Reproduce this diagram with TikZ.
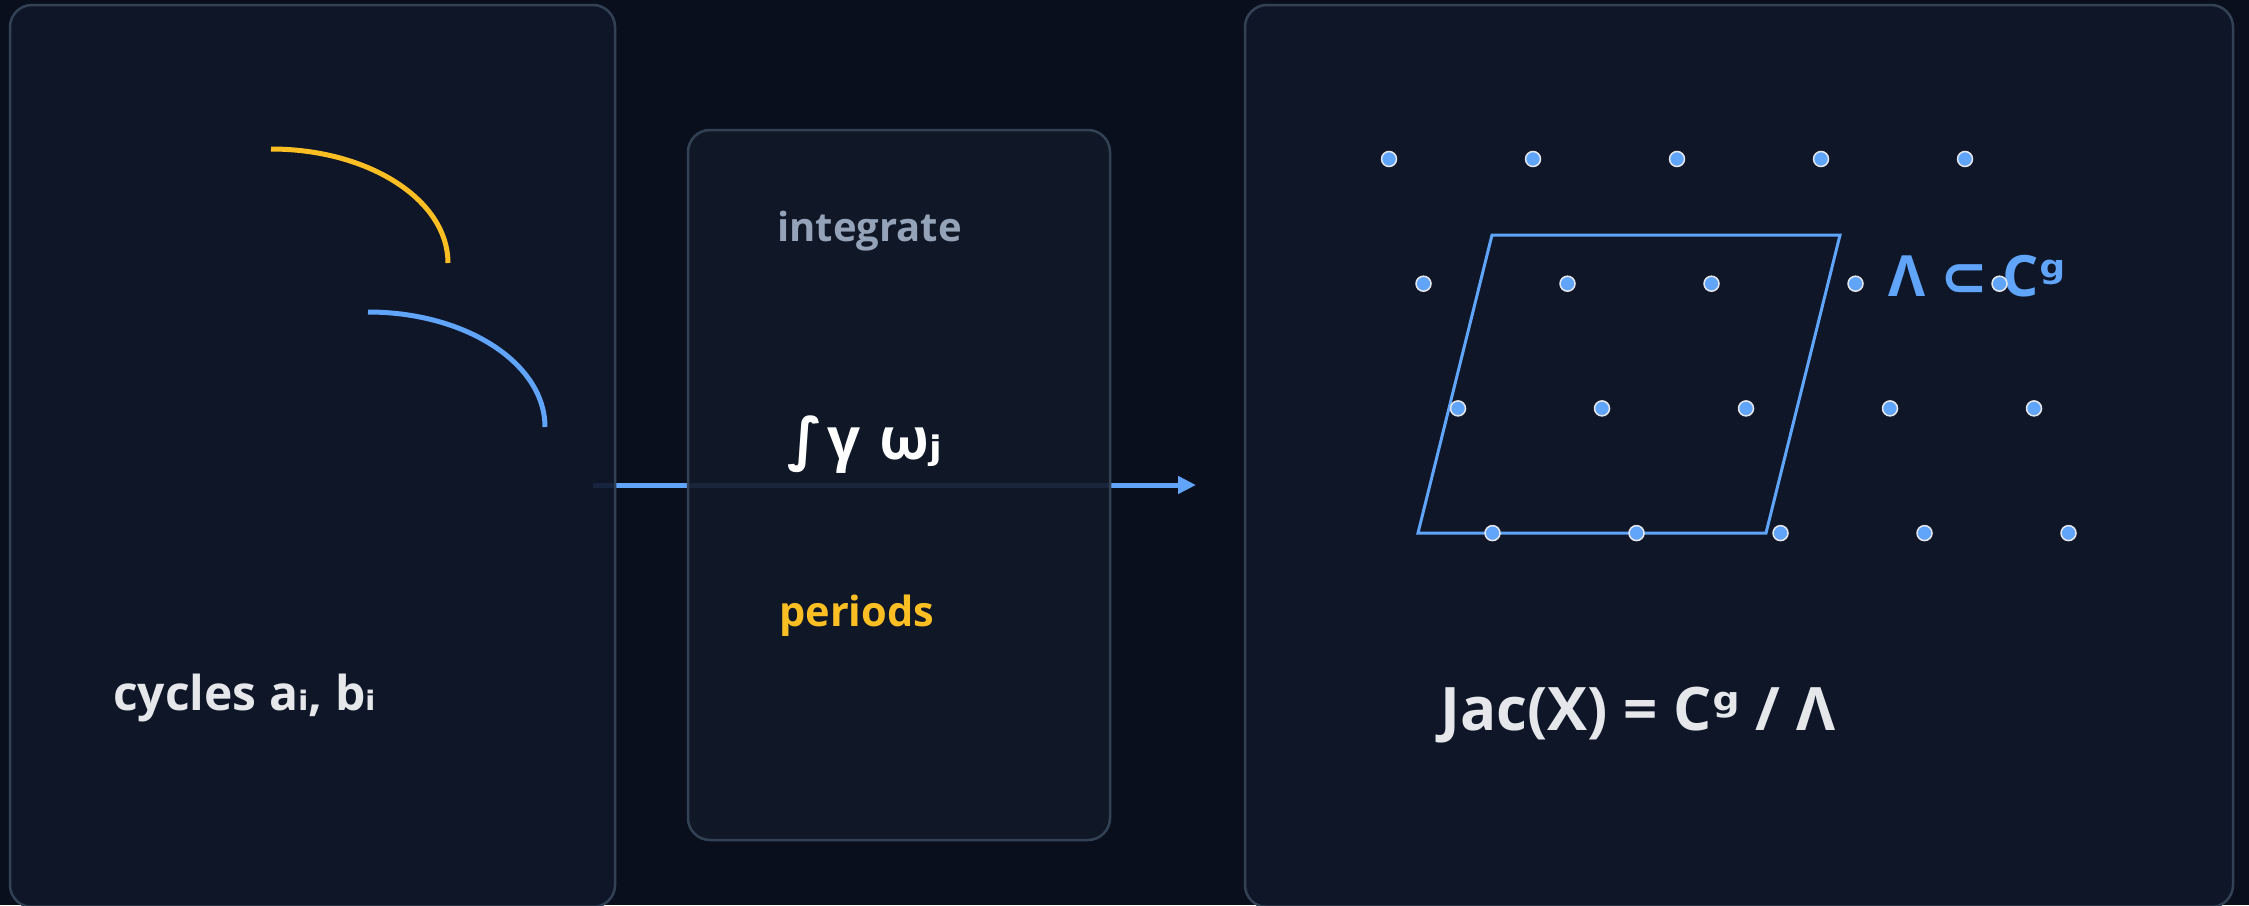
\documentclass[tikz,border=0pt]{standalone}
\usepackage{fontspec}
\setmainfont{Open Sans}
\newfontfamily\symfont{DejaVu Sans}
\definecolor{jbg}{HTML}{0A0F1E}
\definecolor{jpanel}{HTML}{0F172A}
\definecolor{jmid}{HTML}{111827}
\definecolor{jedge}{HTML}{334155}
\definecolor{jblue}{HTML}{60A5FA}
\definecolor{jgold}{HTML}{FBBF24}
\definecolor{jtext}{HTML}{E5E7EB}
\definecolor{jmuted}{HTML}{94A3B8}
\usetikzlibrary{arrows.meta}

\begin{document}
\begin{tikzpicture}[
  x=1pt,y=-1pt,
  panel/.style={draw=jedge,line width=2.5pt,rounded corners=22pt,fill=jpanel,
    fill opacity=0.9,draw opacity=1,inner sep=0pt},
  midpanel/.style={panel,fill=jmid},
  lbl/.style={anchor=base west,inner sep=0pt,font=\bfseries},
  flow/.style={draw=jblue,line width=5pt,-{Triangle[length=18pt,width=17pt]}},
  loop/.style={line width=5pt},
  latdot/.style={circle,fill=jblue,draw=jtext,line width=1.5pt,
    minimum size=15pt,inner sep=0pt},
  cell/.style={draw=jblue,line width=3pt,line join=miter}
]
  \fill[jbg] (0,0) rectangle (2249,905);
  \useasboundingbox (0,0) rectangle (2249,905);

  % the map runs under the panels
  \coordinate (src) at (593,485);
  \coordinate (dst) at (1196,485);
  \draw[flow] (src) -- (dst);

  % Panels
  \node[panel,minimum width=605pt,minimum height=902pt] (curve) at (312.5,456) {};
  \node[midpanel,minimum width=422pt,minimum height=710pt] (integ) at (899,485) {};
  \node[panel,minimum width=988pt,minimum height=902pt] (jac) at (1739,456) {};

  % Left: the two cycles
  \draw[loop,jgold] (271,149) arc[start angle=-90,end angle=0,x radius=177,y radius=114];
  \draw[loop,jblue] (368,312) arc[start angle=-90,end angle=0,x radius=177,y radius=115];
  \node[lbl,text=jtext,font=\bfseries\fontsize{48}{56}\selectfont] (cyc) at (113,710)
    {cycles a{\symfont ᵢ}, b{\symfont ᵢ}};

  % Middle: integration
  \node[lbl,text=jmuted,font=\bfseries\fontsize{40}{48}\selectfont] (intl) at (777,241) {integrate};
  \node[lbl,text=white,font=\bfseries\fontsize{58}{62}\selectfont] (form) at (787,459)
    {{\symfont ∫}\hspace{5pt}γ\hspace{4pt} ω{\symfont ⱼ}};
  \node[lbl,text=jgold,font=\bfseries\fontsize{41.5}{48}\selectfont] (per) at (779,626) {periods};

  % Right: lattice and fundamental cell
  \draw[cell] (1492,235) -- (1840,235) -- (1766,533) -- (1418,533) -- cycle;
  \node[lbl,text=jblue,font=\bfseries\fontsize{57}{62}\selectfont] (latl) at (1888,296)
    {Λ {\symfont ⊂} C{\symfont ᵍ}};
  \foreach \r in {0,...,3}
    \foreach \c in {0,...,4}
      \node[latdot] (p\r\c) at ({1389+144*\c+34.5*\r},{159+124.7*\r}) {};
  \node[lbl,text=jtext,font=\bfseries\fontsize{60}{66}\selectfont] (quot) at (1440,730)
    {Jac(X) = C{\symfont ᵍ} / Λ};
\end{tikzpicture}
\end{document}
